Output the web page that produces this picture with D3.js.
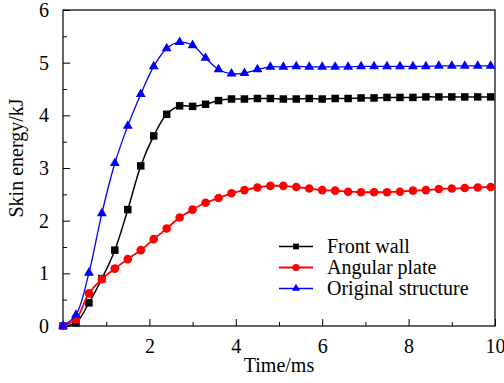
<!DOCTYPE html>
<html>
<head>
<meta charset="utf-8">
<script src="https://cdn.jsdelivr.net/npm/d3@7"></script>
<style>
  html, body { margin: 0; padding: 0; background: #fff; }
  svg text { font-family: "Liberation Serif", "Times New Roman", serif; font-weight: normal; fill: #000; }
</style>
</head>
<body>
<div id="output"></div>
<script>
// time points every 0.3 ms
var times = d3.range(0, 34).map(function (i) { return +(i * 0.3).toFixed(1); });

var frontWall = [0, 0.06, 0.44, 0.9, 1.44, 2.21, 3.04, 3.61, 4.02, 4.18, 4.17, 4.21, 4.28, 4.31, 4.31,
  4.32, 4.32, 4.31, 4.31, 4.32, 4.31, 4.32, 4.32, 4.33, 4.33, 4.34, 4.34, 4.34, 4.35, 4.35, 4.35, 4.35, 4.35, 4.35];
var angularPlate = [0, 0.13, 0.62, 0.89, 1.09, 1.27, 1.44, 1.65, 1.85, 2.06, 2.21, 2.34, 2.43, 2.52, 2.58,
  2.63, 2.66, 2.66, 2.64, 2.61, 2.58, 2.57, 2.55, 2.54, 2.54, 2.54, 2.55, 2.57, 2.58, 2.60, 2.61, 2.62, 2.63, 2.64];
var originalStructure = [0, 0.21, 1.01, 2.14, 3.09, 3.80, 4.40, 4.93, 5.27, 5.39, 5.33, 5.09, 4.87, 4.79, 4.80,
  4.87, 4.92, 4.92, 4.93, 4.92, 4.92, 4.92, 4.92, 4.93, 4.93, 4.93, 4.93, 4.93, 4.93, 4.94, 4.94, 4.94, 4.94, 4.94];

var seriesNames = ['Front wall', 'Angular plate', 'Original structure'];
var xTicks = [2, 4, 6, 8, 10];
var yTicks = [0, 1, 2, 3, 4, 5, 6];

var width = 504;
var height = 383;
var margin = { left: 63, right: 9, top: 10, bottom: 57 };
var serif = '"Liberation Serif", "Times New Roman", serif';

var svg = d3.select('#output')
  .append('svg')
  .attr('width', width)
  .attr('height', height)
  .attr('font-family', serif);

var xScale = d3.scaleLinear()
  .domain([0, 10])
  .range([margin.left, width - margin.right]);

var yScale = d3.scaleLinear()
  .domain([0, 6])
  .range([height - margin.bottom, margin.top]);

var x0 = xScale.range()[0], x1 = xScale.range()[1];
var y0 = yScale.range()[0], y1 = yScale.range()[1];

// minor ticks (inward)
svg.append('g')
  .attr('transform', 'translate(0,' + y0 + ')')
  .call(d3.axisBottom(xScale).tickValues([1, 3, 5, 7, 9]).tickSize(-4).tickFormat(''))
  .call(function (g) { g.select('.domain').remove(); });
svg.append('g')
  .attr('transform', 'translate(' + x0 + ',0)')
  .call(d3.axisLeft(yScale).tickValues([0.5, 1.5, 2.5, 3.5, 4.5, 5.5]).tickSize(-4).tickFormat(''))
  .call(function (g) { g.select('.domain').remove(); });

// major ticks
var xAxis = svg.append('g')
  .attr('transform', 'translate(0,' + y0 + ')')
  .call(d3.axisBottom(xScale).tickValues(xTicks).tickSize(-7).tickPadding(13).tickFormat(d3.format('d')));
xAxis.select('.domain').remove();
xAxis.attr('font-family', serif).attr('font-size', 20);
xAxis.selectAll('text').attr('font-family', serif);

var yAxis = svg.append('g')
  .attr('transform', 'translate(' + x0 + ',0)')
  .call(d3.axisLeft(yScale).tickValues(yTicks).tickSize(-7).tickPadding(14).tickFormat(d3.format('d')));
yAxis.select('.domain').remove();
yAxis.attr('font-family', serif).attr('font-size', 20);
yAxis.selectAll('text').attr('font-family', serif);

svg.selectAll('.tick line').attr('stroke', '#000').attr('stroke-width', 1);

// frame
svg.append('rect')
  .attr('x', x0).attr('y', y1)
  .attr('width', x1 - x0).attr('height', y0 - y1)
  .attr('fill', 'none')
  .attr('stroke', '#000')
  .attr('stroke-width', 1.2);

// axis titles
svg.append('text')
  .attr('x', (x0 + x1) / 2)
  .attr('y', 372)
  .attr('text-anchor', 'middle')
  .attr('font-size', 20)
  .text('Time/ms');

svg.append('text')
  .attr('transform', 'translate(23,' + 158 + ') rotate(-90)')
  .attr('text-anchor', 'middle')
  .attr('font-size', 20)
  .text('Skin energy/kJ');

// series
var series = [
  { name: seriesNames[0], values: frontWall, color: '#000000', symbol: d3.symbolSquare, size: 56, lsize: 34, width: 1.5 },
  { name: seriesNames[1], values: angularPlate, color: '#ff0000', symbol: d3.symbolCircle, size: 58, lsize: 40, width: 1.8 },
  { name: seriesNames[2], values: originalStructure, color: '#0000ff', symbol: d3.symbolTriangle, size: 42, lsize: 28, width: 1.3 }
];

var line = d3.line()
  .x(function (d, i) { return xScale(times[i]); })
  .y(function (d) { return yScale(d); })
  .curve(d3.curveCatmullRom.alpha(0.5));

var plot = svg.append('g');

series.forEach(function (s) {
  plot.append('path')
    .datum(s.values)
    .attr('d', line)
    .attr('fill', 'none')
    .attr('stroke', s.color)
    .attr('stroke-width', s.width);

  plot.selectAll(null)
    .data(s.values)
    .enter()
    .append('path')
    .attr('d', d3.symbol().type(s.symbol).size(s.size))
    .attr('transform', function (d, i) { return 'translate(' + xScale(times[i]) + ',' + yScale(d) + ')'; })
    .attr('fill', s.color);
});

// legend
var legend = svg.append('g').attr('transform', 'translate(279,246.5)');
series.forEach(function (s, i) {
  var g = legend.append('g').attr('transform', 'translate(0,' + (i * 21) + ')');
  g.append('line')
    .attr('x1', 0).attr('x2', 34)
    .attr('stroke', s.color)
    .attr('stroke-width', s.width);
  g.append('path')
    .attr('d', d3.symbol().type(s.symbol).size(s.lsize))
    .attr('transform', 'translate(17,0)')
    .attr('fill', s.color);
  g.append('text')
    .attr('x', 48)
    .attr('dy', '0.32em')
    .attr('font-size', 20)
    .text(s.name);
});
</script>
</body>
</html>
